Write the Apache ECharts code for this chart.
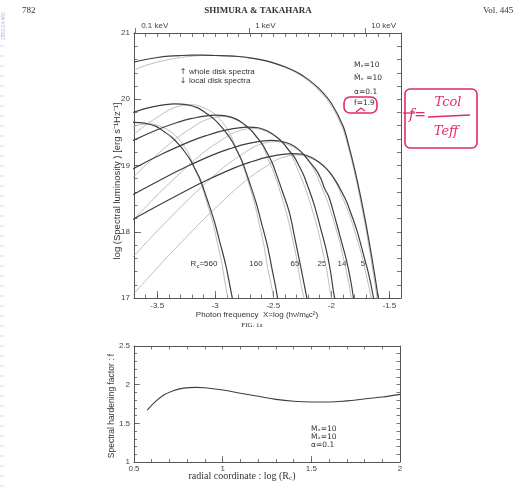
<!DOCTYPE html>
<html><head><meta charset="utf-8">
<script src="https://cdn.jsdelivr.net/npm/echarts@6/dist/echarts.min.js"></script>
<style>html,body{margin:0;padding:0;background:#fff}#c{width:515px;height:487px}</style>
</head><body><div id="c"></div>
<script>
// ---------------- data ----------------
const topXTicks = [-3.5, -3, -2.5, -2, -1.5];
const topYTicks = [17, 18, 19, 20, 21];
const keVTicks = [-3.69, -2.708, -1.708];
const keVLabels = ['0.1 keV', '1 keV', '10 keV'];
const botXTicks = [0.5, 1, 1.5, 2];
const botYTicks = [1, 1.5, 2, 2.5];

// whole disk spectrum (solid) and its diluted-blackbody version (light)
const wholeSolid = [[-3.7,20.56],[-3.6,20.60],[-3.5,20.63],[-3.4,20.65],[-3.3,20.66],[-3.2,20.665],[-3.1,20.665],[-3.0,20.66],[-2.9,20.655],[-2.8,20.645],[-2.7,20.625],[-2.6,20.595],[-2.5,20.55],[-2.4,20.49],[-2.3,20.41],[-2.2,20.30],[-2.1,20.15],[-2.0,19.94],[-1.9,19.60],[-1.85,19.30],[-1.8,18.95],[-1.75,18.55],[-1.7,18.10],[-1.65,17.60],[-1.6,17.05],[-1.55,16.45]];
const wholeDotted = [[-3.7,20.44],[-3.6,20.51],[-3.5,20.56],[-3.4,20.60],[-3.3,20.63],[-3.2,20.65],[-3.1,20.66],[-3.0,20.66],[-2.9,20.655],[-2.8,20.645],[-2.7,20.62],[-2.6,20.59],[-2.5,20.545],[-2.4,20.48],[-2.3,20.40],[-2.2,20.28],[-2.1,20.12],[-2.0,19.90],[-1.9,19.55],[-1.85,19.25],[-1.8,18.90],[-1.75,18.48],[-1.7,18.02],[-1.65,17.50],[-1.6,16.93],[-1.55,16.30]];

// local disk spectra, solid = computed, dotted = diluted blackbody
const r560Solid = [[-3.91,19.60],[-3.71,19.65],[-3.61,19.64],[-3.51,19.59],[-3.44,19.51],[-3.37,19.42],[-3.31,19.31],[-3.26,19.20],[-3.21,19.07],[-3.17,18.93],[-3.13,18.79],[-3.07,18.49],[-3.01,18.17],[-2.96,17.84],[-2.91,17.50],[-2.87,17.15],[-2.83,16.79]];
const r560Dotted = [[-4.02,19.24],[-3.84,19.46],[-3.72,19.58],[-3.57,19.63],[-3.42,19.55],[-3.32,19.41],[-3.24,19.21],[-3.18,18.97],[-3.12,18.71],[-3.07,18.43],[-3.02,18.13],[-2.98,17.82],[-2.94,17.50],[-2.91,17.17],[-2.87,16.84]];
const r160Solid = [[-3.85,19.71],[-3.71,19.80],[-3.55,19.88],[-3.35,19.93],[-3.25,19.92],[-3.15,19.87],[-3.08,19.79],[-3.01,19.70],[-2.95,19.59],[-2.90,19.48],[-2.85,19.35],[-2.81,19.21],[-2.77,19.07],[-2.71,18.77],[-2.65,18.45],[-2.60,18.12],[-2.55,17.78],[-2.51,17.43],[-2.47,17.07],[-2.44,16.70]];
const r160Dotted = [[-3.96,19.05],[-3.66,19.53],[-3.48,19.75],[-3.36,19.87],[-3.21,19.92],[-3.06,19.84],[-2.96,19.70],[-2.88,19.50],[-2.82,19.26],[-2.76,19.00],[-2.71,18.72],[-2.66,18.42],[-2.62,18.11],[-2.58,17.79],[-2.55,17.46],[-2.51,17.13],[-2.46,16.43]];
const r65Solid = [[-3.90,19.21],[-3.73,19.36],[-3.50,19.54],[-3.36,19.63],[-3.20,19.71],[-3.00,19.76],[-2.91,19.75],[-2.82,19.70],[-2.75,19.62],[-2.69,19.53],[-2.64,19.42],[-2.59,19.31],[-2.55,19.18],[-2.51,19.04],[-2.48,18.90],[-2.42,18.60],[-2.36,18.28],[-2.32,17.95],[-2.28,17.61],[-2.24,17.26],[-2.20,16.90]];
const r65Dotted = [[-3.90,18.48],[-3.68,18.87],[-3.38,19.35],[-3.20,19.57],[-3.08,19.69],[-2.93,19.74],[-2.78,19.66],[-2.68,19.52],[-2.60,19.32],[-2.54,19.08],[-2.48,18.82],[-2.43,18.54],[-2.38,18.24],[-2.34,17.93],[-2.30,17.61],[-2.27,17.28],[-2.23,16.95]];
const r25Solid = [[-3.92,18.75],[-3.62,19.03],[-3.45,19.18],[-3.22,19.36],[-3.08,19.45],[-2.92,19.53],[-2.72,19.58],[-2.63,19.57],[-2.55,19.52],[-2.48,19.44],[-2.42,19.35],[-2.37,19.24],[-2.32,19.13],[-2.28,19.00],[-2.24,18.86],[-2.21,18.72],[-2.15,18.42],[-2.10,18.10],[-2.05,17.77],[-2.01,17.43],[-1.98,17.08],[-1.94,16.72]];
const r25Dotted = [[-3.82,17.97],[-3.64,18.30],[-3.42,18.69],[-3.12,19.17],[-2.94,19.39],[-2.82,19.51],[-2.67,19.56],[-2.52,19.48],[-2.42,19.34],[-2.34,19.14],[-2.28,18.90],[-2.22,18.64],[-2.17,18.36],[-2.12,18.06],[-2.08,17.75],[-2.04,17.43],[-2.01,17.10],[-1.97,16.77]];
const r14Solid = [[-4.02,18.26],[-3.72,18.55],[-3.42,18.83],[-3.25,18.98],[-3.02,19.16],[-2.88,19.25],[-2.72,19.33],[-2.52,19.38],[-2.44,19.37],[-2.35,19.32],[-2.28,19.24],[-2.23,19.15],[-2.18,19.04],[-2.13,18.93],[-2.09,18.80],[-2.06,18.66],[-2.02,18.52],[-1.97,18.22],[-1.92,17.90],[-1.87,17.57],[-1.83,17.23],[-1.80,16.88]];
const r14Dotted = [[-3.93,17.19],[-3.63,17.77],[-3.45,18.10],[-3.23,18.49],[-2.93,18.97],[-2.75,19.19],[-2.63,19.31],[-2.48,19.36],[-2.33,19.28],[-2.23,19.14],[-2.15,18.94],[-2.09,18.70],[-2.03,18.44],[-1.98,18.16],[-1.93,17.86],[-1.89,17.55],[-1.85,17.23],[-1.82,16.90]];
const r5Solid = [[-3.84,18.06],[-3.54,18.35],[-3.24,18.63],[-3.07,18.78],[-2.84,18.96],[-2.70,19.05],[-2.54,19.13],[-2.34,19.18],[-2.25,19.17],[-2.17,19.12],[-2.10,19.04],[-2.04,18.95],[-1.99,18.84],[-1.95,18.73],[-1.91,18.60],[-1.87,18.46],[-1.84,18.32],[-1.78,18.02],[-1.73,17.70],[-1.68,17.37],[-1.64,17.03],[-1.61,16.67]];
const r5Dotted = [[-3.74,16.99],[-3.44,17.57],[-3.26,17.90],[-3.04,18.29],[-2.74,18.77],[-2.56,18.99],[-2.44,19.11],[-2.29,19.16],[-2.14,19.08],[-2.04,18.94],[-1.96,18.74],[-1.90,18.50],[-1.84,18.24],[-1.79,17.96],[-1.74,17.66],[-1.70,17.35],[-1.66,17.03],[-1.63,16.70]];
const radiusLabels = ['560', '160', '65', '25', '14', '5'];

// spectral hardening factor vs log radius
const hardX = [0.575, 0.62, 0.67, 0.72, 0.78, 0.85, 0.90, 1.0, 1.1, 1.2, 1.3, 1.4, 1.5, 1.6, 1.7, 1.8, 1.9, 2.0];
const hardF = [1.67, 1.78, 1.87, 1.92, 1.955, 1.965, 1.96, 1.93, 1.89, 1.85, 1.81, 1.785, 1.775, 1.775, 1.79, 1.815, 1.84, 1.875];

// ---------------- chart ----------------
function steps(a, b, s) { const r = []; const n = Math.round((b - a) / s); for (let i = 0; i <= n; i++) r.push(Math.round((a + i * s) * 100) / 100); return r; }
const AX = '#555';
const LBL = { fontFamily: 'Liberation Sans', fontSize: 8, color: '#444' };
function ax(o) {
  const base = { type: 'value', splitLine: { show: false }, axisLine: { show: false, lineStyle: { color: AX, width: 1 } }, axisLabel: { show: false }, axisTick: { show: false } };
  return Object.assign(base, o);
}
function ticks(vals, len, inside) { return { show: true, inside: inside !== false, length: len, customValues: vals, lineStyle: { color: AX, width: 0.8 } }; }
const lineOn = { show: true, lineStyle: { color: AX, width: 1 } };

const xAxis = [
  ax({ gridIndex: 0, min: -3.7, max: -1.4, position: 'bottom', axisLine: lineOn, axisTick: ticks(topXTicks, 7),
       axisLabel: Object.assign({ show: true, customValues: topXTicks, margin: 4, formatter: v => String(v) }, LBL) }),
  ax({ gridIndex: 0, min: -3.7, max: -1.4, position: 'bottom', axisTick: ticks(steps(-3.7, -1.4, 0.1), 3.5) }),
  ax({ gridIndex: 0, min: -3.7, max: -1.4, position: 'top', axisLine: lineOn, axisTick: ticks(steps(-3.7, -1.4, 0.1), 4) }),
  ax({ gridIndex: 0, min: -3.7, max: -1.4, position: 'top', axisTick: ticks(keVTicks, 5, false),
       axisLabel: Object.assign({ show: true, customValues: keVTicks, margin: 3, align: 'left', padding: [0, 0, 0, 6],
       formatter: v => keVLabels[keVTicks.indexOf(v)] || '' }, LBL) }),
  ax({ gridIndex: 1, min: 0.5, max: 2, position: 'bottom', axisLine: lineOn, axisTick: ticks(botXTicks, 6),
       axisLabel: Object.assign({ show: true, customValues: botXTicks, margin: 3, formatter: v => String(v) }, LBL) }),
  ax({ gridIndex: 1, min: 0.5, max: 2, position: 'bottom', axisTick: ticks(steps(0.5, 2, 0.1), 3) }),
  ax({ gridIndex: 1, min: 0.5, max: 2, position: 'top', axisLine: lineOn, axisTick: ticks(steps(0.5, 2, 0.1), 3.5) })
];
const yAxis = [
  ax({ gridIndex: 0, min: 17, max: 21, position: 'left', axisLine: lineOn, axisTick: ticks(topYTicks, 7),
       axisLabel: Object.assign({ show: true, customValues: topYTicks, margin: 4, formatter: v => String(v) }, LBL) }),
  ax({ gridIndex: 0, min: 17, max: 21, position: 'left', axisTick: ticks(steps(17, 21, 0.2), 3.5) }),
  ax({ gridIndex: 0, min: 17, max: 21, position: 'right', axisLine: lineOn, axisTick: ticks(steps(17, 21, 0.2), 4) }),
  ax({ gridIndex: 1, min: 1, max: 2.5, position: 'left', axisLine: lineOn, axisTick: ticks(botYTicks, 6),
       axisLabel: Object.assign({ show: true, customValues: botYTicks, margin: 4, formatter: v => String(v) }, LBL) }),
  ax({ gridIndex: 1, min: 1, max: 2.5, position: 'left', axisTick: ticks(steps(1, 2.5, 0.1), 3) }),
  ax({ gridIndex: 1, min: 1, max: 2.5, position: 'right', axisLine: lineOn, axisTick: ticks(steps(1, 2.5, 0.1), 3.5) })
];

function curve(data, dotted) {
  return { type: 'line', xAxisIndex: 0, yAxisIndex: 0, data: data, showSymbol: false, smooth: 0.35, clip: true, silent: true,
    z: dotted ? 2 : 3,
    lineStyle: dotted ? { color: '#adadad', width: 0.8 } : { color: '#3e3e3e', width: 1.2 } };
}
const series = [
  curve(wholeDotted, true), curve(r560Dotted, true), curve(r160Dotted, true), curve(r65Dotted, true),
  curve(r25Dotted, true), curve(r14Dotted, true), curve(r5Dotted, true),
  curve(wholeSolid, false), curve(r560Solid, false), curve(r160Solid, false), curve(r65Solid, false),
  curve(r25Solid, false), curve(r14Solid, false), curve(r5Solid, false),
  { type: 'line', xAxisIndex: 4, yAxisIndex: 3, data: hardX.map((x, i) => [x, hardF[i]]), showSymbol: false, smooth: 0.4,
    lineStyle: { color: '#3e3e3e', width: 1.1 }, silent: true }
];

const T = '#333';
function txt(x, y, text, font, opts) {
  return Object.assign({ type: 'text', x: x, y: y, silent: true,
    style: Object.assign({ text: text, font: font, fill: T, align: 'left', verticalAlign: 'middle' }, (opts && opts.style) || {}) },
    (opts && opts.el) || {});
}
const SANS = 'Liberation Sans';
const graphic = [];
// header
graphic.push(txt(22, 11, '782', '9px Liberation Serif'));
graphic.push(txt(258, 11, 'SHIMURA & TAKAHARA', 'bold 9px Liberation Serif', { style: { align: 'center' } }));
graphic.push(txt(483, 11, 'Vol. 445', '9px Liberation Serif'));
// margin marks
for (let y = 36; y < 487; y += 10) graphic.push({ type: 'line', silent: true, shape: { x1: 0, y1: y, x2: 4, y2: y }, style: { stroke: '#c4e1f4', lineWidth: 1 } });
graphic.push(txt(4, 26, '2302.04.465', '5px Liberation Sans', { style: { fill: '#b9b3dc', align: 'center' }, el: { rotation: Math.PI / 2 } }));
// top panel annotations
graphic.push(txt(183, 72, '↑', '8px DejaVu Sans', { style: { align: 'center' } }));
graphic.push(txt(183, 81, '↓', '8px DejaVu Sans', { style: { align: 'center' } }));
graphic.push(txt(189, 72, 'whole disk spectra', '8px ' + SANS));
graphic.push(txt(189, 81, 'local disk spectra', '8px ' + SANS));
graphic.push(txt(354, 65, 'Mₓ=10', '7.5px DejaVu Sans'));
graphic.push(txt(354, 78, 'Ṁₓ =10', '7.5px DejaVu Sans'));
graphic.push(txt(354, 92, 'α=0.1', '7.5px DejaVu Sans'));
graphic.push(txt(354, 103, 'f=1.9', '7.5px DejaVu Sans'));
// radius labels
const rLabX = [204, 256, 295, 322, 342, 363];
radiusLabels.forEach((r, i) => {
  if (i === 0) {
    graphic.push({ type: 'text', x: rLabX[0], y: 264, silent: true, style: { text: '{a|R}{s|c}{a|=' + r + '}', align: 'center', verticalAlign: 'middle', fill: T,
      rich: { a: { font: '8px ' + SANS, fill: T }, s: { font: '6px ' + SANS, fill: T, padding: [5, 0, 0, 0] } } } });
  } else {
    graphic.push(txt(rLabX[i], 264, r, '8px ' + SANS, { style: { align: 'center' } }));
  }
});
// top axis titles
graphic.push(txt(117, 181, 'log (Spectral luminosity ) [erg s⁻¹Hz⁻¹]', '9.5px ' + SANS, { style: { align: 'center' }, el: { rotation: Math.PI / 2 } }));
graphic.push(txt(257, 315, 'Photon frequency  X=log (hν/mₑc²)', '8px ' + SANS, { style: { align: 'center' } }));
graphic.push(txt(252, 325, 'FIG. 1a', '7px Liberation Serif', { style: { align: 'center' } }));
// bottom panel titles
graphic.push(txt(112, 406, 'Spectral hardening factor : f', '8.5px ' + SANS, { style: { align: 'center' }, el: { rotation: Math.PI / 2 } }));
graphic.push({ type: 'text', x: 242, y: 476, silent: true, style: { text: '{a|radial coordinate : log (R}{s|c}{a|)}', align: 'center', verticalAlign: 'middle', fill: T,
  rich: { a: { font: '10px Liberation Serif', fill: T }, s: { font: '7px Liberation Serif', fill: T, padding: [5, 0, 0, 0] } } } });
graphic.push(txt(311, 429, 'Mₓ=10', '7.5px DejaVu Sans'));
graphic.push(txt(311, 437, 'Ṁₓ=10', '7.5px DejaVu Sans'));
graphic.push(txt(311, 445, 'α=0.1', '7.5px DejaVu Sans'));
// pink handwriting
const PINK = '#e4286f';
graphic.push({ type: 'rect', silent: true, shape: { x: 344, y: 97, width: 33, height: 16, r: 6 }, style: { fill: 'none', stroke: PINK, lineWidth: 1.6 } });
graphic.push({ type: 'polyline', silent: true, shape: { points: [[356, 112], [361, 108], [365, 111]] }, style: { fill: 'none', stroke: PINK, lineWidth: 1.3 } });
graphic.push({ type: 'rect', silent: true, shape: { x: 405, y: 89, width: 72, height: 59, r: 5 }, style: { fill: 'none', stroke: PINK, lineWidth: 1.6 } });
graphic.push(txt(409, 115, 'f=', 'italic 14px DejaVu Serif', { style: { fill: PINK } }));
graphic.push({ type: 'line', silent: true, shape: { x1: 403, y1: 113, x2: 415, y2: 113 }, style: { stroke: PINK, lineWidth: 1.3 } });
graphic.push(txt(448, 103, 'Tcol', 'italic 13px DejaVu Serif', { style: { fill: PINK, align: 'center' } }));
graphic.push({ type: 'line', silent: true, shape: { x1: 428, y1: 117, x2: 470, y2: 115 }, style: { stroke: PINK, lineWidth: 1.4 } });
graphic.push(txt(446, 132, 'Teff', 'italic 13px DejaVu Serif', { style: { fill: PINK, align: 'center' } }));

const chart = echarts.init(document.getElementById('c'), null, { renderer: 'canvas' });
chart.setOption({
  animation: false,
  backgroundColor: '#fff',
  grid: [
    { left: 134, right: 114, top: 33, bottom: 189 },
    { left: 134, right: 115, top: 346, bottom: 25 }
  ],
  xAxis: xAxis, yAxis: yAxis, series: series, graphic: graphic
});
</script>
</body></html>
